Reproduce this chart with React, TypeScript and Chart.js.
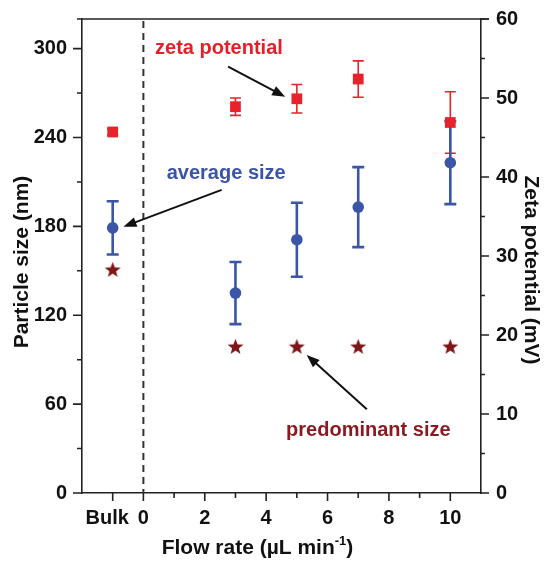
import React, { useEffect, useRef } from 'react';
import { Chart, registerables } from 'chart.js';

Chart.register(...registerables);

// ---- data ----
const flowRate = [-1, 3, 5, 7, 10]; // -1 stands for "Bulk"
const avgSize = [179, 135, 171, 193, 223];
const avgSizeErr = [18, 21, 25, 27, 28];
const predominantSize = [151, 99, 99, 99, 99];
const zetaPotential = [45.7, 48.9, 49.9, 52.4, 46.9];
const zetaErr = [0.4, 1.1, 1.8, 2.3, 3.9];

// ---- ticks ----
const xMajorTicks = [-1, 0, 2, 4, 6, 8, 10];
const xTickLabels = ['Bulk  ', '0', '2', '4', '6', '8', '10'];
const xMinorTicks = [1, 3, 5, 7, 9];
const leftMajorTicks = [0, 60, 120, 180, 240, 300];
const leftMinorTicks = [30, 90, 150, 210, 270];
const rightMajorTicks = [0, 10, 20, 30, 40, 50, 60];
const rightMinorTicks = [5, 15, 25, 35, 45, 55];

// ---- annotations (data units: x = flow rate, y = particle size) ----
const annotationTexts = ['zeta potential', 'average size', 'predominant size'];
const annotationPos = [
  [0.38, 300.4],
  [0.76, 215.4],
  [4.65, 42],
];
const arrowFrom = [
  [2.76, 287.8],
  [2.55, 204.6],
  [7.28, 56.5],
];
const arrowTo = [
  [4.62, 267.5],
  [-0.65, 179.8],
  [5.32, 93.2],
];

const RED = '#e8222a';
const BLUE = '#3b55a7';
const STAR = '#7d1719';
const AXIS = '#222222';
const FONT = '"Liberation Sans", Arial, sans-serif';
const annotationColors = ['#e3202a', '#3a55a8', '#8a1a1f'];

function makeStar(color: string, r: number) {
  const c = document.createElement('canvas');
  const s = Math.ceil(r * 2 + 2);
  c.width = s;
  c.height = s;
  const ctx = c.getContext('2d')!;
  ctx.fillStyle = color;
  ctx.beginPath();
  for (let i = 0; i < 10; i++) {
    const rad = i % 2 === 0 ? r : r * 0.42;
    const a = -Math.PI / 2 + (i * Math.PI) / 5;
    ctx.lineTo(s / 2 + rad * Math.cos(a), s / 2 + 0.8 + rad * Math.sin(a));
  }
  ctx.closePath();
  ctx.fill();
  return c;
}

function drawArrow(ctx: CanvasRenderingContext2D, x1: number, y1: number, x2: number, y2: number) {
  const ang = Math.atan2(y2 - y1, x2 - x1);
  const head = 13;
  const hw = 5;
  const bx = x2 - head * Math.cos(ang);
  const by = y2 - head * Math.sin(ang);
  ctx.save();
  ctx.strokeStyle = '#111';
  ctx.fillStyle = '#111';
  ctx.lineWidth = 2;
  ctx.beginPath();
  ctx.moveTo(x1, y1);
  ctx.lineTo(bx + 2 * Math.cos(ang), by + 2 * Math.sin(ang));
  ctx.stroke();
  ctx.beginPath();
  ctx.moveTo(x2, y2);
  ctx.lineTo(bx + hw * Math.sin(ang), by - hw * Math.cos(ang));
  ctx.lineTo(bx - hw * Math.sin(ang), by + hw * Math.cos(ang));
  ctx.closePath();
  ctx.fill();
  ctx.restore();
}

const decorPlugin = {
  id: 'decor',
  beforeDatasetsDraw(chart: any) {
    const { ctx, chartArea, scales } = chart;
    const x = scales.x;
    const y = scales.y;
    const y2 = scales.y2;
    // dashed vertical line at x = 0
    ctx.save();
    ctx.strokeStyle = '#333';
    ctx.lineWidth = 2;
    ctx.setLineDash([7, 5]);
    ctx.beginPath();
    const x0 = x.getPixelForValue(0);
    ctx.moveTo(x0, chartArea.top + 2);
    ctx.lineTo(x0, chartArea.bottom);
    ctx.stroke();
    ctx.restore();

    // error bars
    const bars = (vals: number[], errs: number[], scale: any, color: string, lw: number, cap: number) => {
      ctx.save();
      ctx.strokeStyle = color;
      ctx.lineWidth = lw;
      flowRate.forEach((fx, i) => {
        const px = x.getPixelForValue(fx);
        const top = scale.getPixelForValue(vals[i] + errs[i]);
        const bot = scale.getPixelForValue(vals[i] - errs[i]);
        ctx.beginPath();
        ctx.moveTo(px, top);
        ctx.lineTo(px, bot);
        ctx.moveTo(px - cap, top);
        ctx.lineTo(px + cap, top);
        ctx.moveTo(px - cap, bot);
        ctx.lineTo(px + cap, bot);
        ctx.stroke();
      });
      ctx.restore();
    };
    bars(zetaPotential, zetaErr, y2, RED, 1.6, 5.5);
    bars(avgSize, avgSizeErr, y, BLUE, 2.6, 6);
  },
  afterDraw(chart: any) {
    const { ctx, chartArea, scales } = chart;
    const x = scales.x;
    const y = scales.y;
    const y2 = scales.y2;
    ctx.save();
    ctx.strokeStyle = AXIS;
    ctx.lineWidth = 1.6;
    // top frame line
    ctx.beginPath();
    ctx.moveTo(chartArea.left - 5, chartArea.top);
    ctx.lineTo(chartArea.right + 8, chartArea.top);
    ctx.stroke();
    // tick marks
    ctx.beginPath();
    const tickV = (scale: any, vals: number[], len: number, dir: number, xEdge: number) => {
      vals.forEach((v) => {
        const p = scale.getPixelForValue(v);
        ctx.moveTo(xEdge, p);
        ctx.lineTo(xEdge + dir * len, p);
      });
    };
    tickV(y, leftMajorTicks, 9, -1, chartArea.left);
    tickV(y, leftMinorTicks, 5, -1, chartArea.left);
    tickV(y2, rightMajorTicks, 8, 1, chartArea.right);
    tickV(y2, rightMinorTicks, 4, 1, chartArea.right);
    const tickH = (vals: number[], len: number) => {
      vals.forEach((v) => {
        const p = x.getPixelForValue(v);
        ctx.moveTo(p, chartArea.bottom);
        ctx.lineTo(p, chartArea.bottom + len);
      });
    };
    tickH(xMajorTicks, 8);
    tickH(xMinorTicks, 5);
    ctx.stroke();
    ctx.restore();

    // axis titles
    ctx.save();
    ctx.fillStyle = '#111';
    ctx.font = `bold 21px ${FONT}`;
    ctx.textAlign = 'center';
    ctx.textBaseline = 'middle';
    const midY = (chartArea.top + chartArea.bottom) / 2;
    ctx.save();
    ctx.translate(22, midY + 6);
    ctx.rotate(-Math.PI / 2);
    ctx.fillText('Particle size (nm)', 0, 0);
    ctx.restore();
    ctx.save();
    ctx.translate(chart.width - 15, midY + 14);
    ctx.rotate(Math.PI / 2);
    ctx.fillText('Zeta potential (mV)', 0, 0);
    ctx.restore();

    // x title with superscript
    const main = 'Flow rate (\u00b5L min';
    const sup = '-1';
    const close = ')';
    ctx.font = `bold 21px ${FONT}`;
    const w1 = ctx.measureText(main).width;
    const w3 = ctx.measureText(close).width;
    ctx.font = `bold 13px ${FONT}`;
    const w2 = ctx.measureText(sup).width;
    const total = w1 + w2 + w3;
    const cx = (chartArea.left + chartArea.right) / 2 - 24;
    let sx = cx - total / 2;
    const base = chart.height - 9;
    ctx.textAlign = 'left';
    ctx.textBaseline = 'alphabetic';
    ctx.font = `bold 21px ${FONT}`;
    ctx.fillText(main, sx, base);
    sx += w1;
    ctx.font = `bold 13px ${FONT}`;
    ctx.fillText(sup, sx, base - 9);
    sx += w2;
    ctx.font = `bold 21px ${FONT}`;
    ctx.fillText(close, sx, base);
    ctx.restore();

    // annotations
    ctx.save();
    ctx.font = `bold 20px ${FONT}`;
    ctx.textAlign = 'left';
    ctx.textBaseline = 'middle';
    annotationTexts.forEach((t, i) => {
      ctx.fillStyle = annotationColors[i];
      ctx.fillText(t, x.getPixelForValue(annotationPos[i][0]), y.getPixelForValue(annotationPos[i][1]));
      drawArrow(
        ctx,
        x.getPixelForValue(arrowFrom[i][0]),
        y.getPixelForValue(arrowFrom[i][1]),
        x.getPixelForValue(arrowTo[i][0]),
        y.getPixelForValue(arrowTo[i][1])
      );
    });
    ctx.restore();
  },
};

export default function App() {
  const ref = useRef<HTMLCanvasElement | null>(null);
  useEffect(() => {
    if (!ref.current) return;
    const star = makeStar(STAR, 8.4);
    const tickFont = { family: FONT, size: 20, weight: 'bold' as const };
    const noPad = (s: any) => {
      s.paddingTop = 0;
      s.paddingBottom = 0;
    };
    const chart = new Chart(ref.current, {
      type: 'scatter',
      data: {
        datasets: [
          {
            label: 'zeta potential',
            data: flowRate.map((fx, i) => ({ x: fx, y: zetaPotential[i] })),
            yAxisID: 'y2',
            pointStyle: 'rect',
            pointRadius: 7.6,
            backgroundColor: RED,
            borderColor: RED,
            borderWidth: 0,
          },
          {
            label: 'average size',
            data: flowRate.map((fx, i) => ({ x: fx, y: avgSize[i] })),
            yAxisID: 'y',
            pointStyle: 'circle',
            pointRadius: 5.8,
            backgroundColor: BLUE,
            borderColor: BLUE,
            borderWidth: 0,
          },
          {
            label: 'predominant size',
            data: flowRate.map((fx, i) => ({ x: fx, y: predominantSize[i] })),
            yAxisID: 'y',
            pointStyle: star as any,
            pointRadius: 8,
            backgroundColor: STAR,
            borderWidth: 0,
          },
        ],
      },
      options: {
        responsive: false,
        animation: false,
        events: [],
        layout: { padding: { top: 19, left: 0, right: 0, bottom: 0 } },
        plugins: { legend: { display: false }, tooltip: { enabled: false } },
        scales: {
          x: {
            type: 'linear',
            position: 'bottom',
            min: -2,
            max: 11,
            afterBuildTicks: (s: any) => {
              s.ticks = xMajorTicks.map((v) => ({ value: v }));
            },
            afterFit: (s: any) => {
              s.height = 70;
              s.paddingLeft = 0;
              s.paddingRight = 0;
            },
            ticks: {
              autoSkip: false,
              maxRotation: 0,
              padding: 13,
              color: '#111',
              font: tickFont,
              callback: (v: any) => {
                const idx = xMajorTicks.indexOf(Number(v));
                return idx >= 0 ? xTickLabels[idx] : '';
              },
            },
            grid: { display: false, drawTicks: false },
            border: { display: true, color: AXIS, width: 1.6 },
          },
          y: {
            type: 'linear',
            position: 'left',
            min: 0,
            max: 320,
            afterBuildTicks: (s: any) => {
              s.ticks = leftMajorTicks.map((v) => ({ value: v }));
            },
            afterFit: (s: any) => {
              s.width = 82;
              noPad(s);
            },
            ticks: { padding: 15, color: '#111', font: tickFont },
            grid: { display: false, drawTicks: false },
            border: { display: true, color: AXIS, width: 1.6 },
          },
          y2: {
            type: 'linear',
            position: 'right',
            min: 0,
            max: 60,
            afterBuildTicks: (s: any) => {
              s.ticks = rightMajorTicks.map((v) => ({ value: v }));
            },
            afterFit: (s: any) => {
              s.width = 65;
              noPad(s);
            },
            ticks: { padding: 15, color: '#111', font: tickFont },
            grid: { display: false, drawTicks: false },
            border: { display: true, color: AXIS, width: 1.6 },
          },
        },
      },
      plugins: [decorPlugin],
    });
    return () => chart.destroy();
  }, []);
  return (
    <div style={{ position: 'absolute', left: 0, top: 0, width: 546, height: 563, background: '#fff' }}>
      <canvas ref={ref} width={546} height={563} style={{ display: 'block' }} />
    </div>
  );
}
